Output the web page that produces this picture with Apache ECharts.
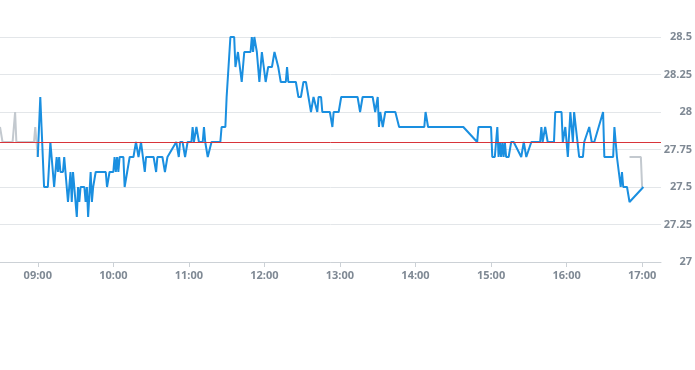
<!DOCTYPE html>
<html>
<head>
<meta charset="utf-8">
<script src="https://cdn.jsdelivr.net/npm/echarts@6/dist/echarts.min.js"></script>
<style>
  html, body { margin: 0; padding: 0; background: #fff; }
  #chart { width: 695px; height: 370px; }
</style>
</head>
<body>
<div id="chart"></div>
<script>
// Hour tick labels on the x axis
var hourTicks = ['09:00','10:00','11:00','12:00','13:00','14:00','15:00','16:00','17:00'];

// Y axis tick range
var yMin = 27, yMax = 28.5, yStep = 0.25;

// Previous close (red reference line)
var prevClose = 27.8;

// Auction / indicative price (grey)
var grayTimes  = ['08:30','08:31','08:32','08:40','08:42','08:43','08:57','08:58','09:00', null, '16:50','16:59','17:00'];
var grayPrices = [27.9, 27.9, 27.8, 27.8, 28.0, 27.8, 27.8, 27.9, 27.7, null, 27.7, 27.7, 27.5];

// Continuous trading price (blue)
var blueTimes = [
 '09:00','09:02','09:03','09:04','09:05','09:08','09:10','09:11','09:12','09:13',
 '09:15','09:16','09:17','09:18','09:20','09:21','09:22','09:23','09:24','09:26',
 '09:27','09:28','09:29','09:31','09:32','09:33','09:34','09:37','09:38','09:39',
 '09:40','09:42','09:43','09:44','09:46','09:54','09:55','09:57','10:00','10:01',
 '10:02','10:03','10:04','10:05','10:08','10:09','10:11','10:12','10:13','10:16',
 '10:18','10:19','10:20','10:22','10:23','10:25','10:26','10:32','10:34','10:35',
 '10:39','10:41','10:43','10:50','10:51','10:52','10:53','10:55','10:57','10:59',
 '11:02','11:03','11:04','11:06','11:07','11:08','11:11','11:12','11:13','11:15',
 '11:18','11:25','11:26','11:29','11:30','11:31','11:33','11:36','11:37','11:39',
 '11:40','11:42','11:44','11:49','11:50','11:51','11:52','11:54','11:56','11:58',
 '12:01','12:03','12:06','12:08','12:09','12:11','12:13','12:17','12:18','12:19',
 '12:25','12:27','12:29','12:31','12:33','12:35','12:37','12:39','12:42','12:43',
 '12:45','12:46','12:52','12:54','12:55','12:59','13:01','13:14','13:16','13:18',
 '13:26','13:28','13:30','13:31','13:32','13:34','13:36','13:44','13:47','14:07',
 '14:08','14:10','14:38','14:49','14:50','15:00','15:01','15:03','15:05','15:06',
 '15:07','15:08','15:09','15:10','15:11','15:12','15:14','15:16','15:18','15:24',
 '15:26','15:28','15:32','15:39','15:40','15:41','15:43','15:45','15:50','15:51',
 '15:56','15:57','15:59','16:01','16:03','16:04','16:05','16:06','16:07','16:10',
 '16:13','16:14','16:18','16:20','16:22','16:29','16:30','16:37','16:38','16:40',
 '16:43','16:44','16:45','16:48','16:50','17:01'
];
var bluePrices = [
 27.7, 28.1, 27.9, 27.7, 27.5, 27.5, 27.8, 27.7, 27.7, 27.5,
 27.7, 27.6, 27.7, 27.6, 27.6, 27.7, 27.7, 27.5, 27.4, 27.6,
 27.4, 27.6, 27.6, 27.3, 27.5, 27.4, 27.5, 27.5, 27.4, 27.5,
 27.3, 27.6, 27.4, 27.5, 27.6, 27.6, 27.5, 27.6, 27.6, 27.7,
 27.6, 27.7, 27.6, 27.7, 27.7, 27.5, 27.6, 27.6, 27.7, 27.7,
 27.8, 27.8, 27.7, 27.8, 27.8, 27.6, 27.7, 27.7, 27.6, 27.7,
 27.7, 27.6, 27.7, 27.8, 27.8, 27.7, 27.8, 27.8, 27.7, 27.8,
 27.8, 27.9, 27.8, 27.9, 27.9, 27.8, 27.8, 27.9, 27.8, 27.7,
 27.8, 27.8, 27.9, 27.9, 28.1, 28.1, 28.5, 28.5, 28.3, 28.4,
 28.4, 28.2, 28.4, 28.4, 28.5, 28.4, 28.5, 28.4, 28.2, 28.4,
 28.2, 28.3, 28.3, 28.4, 28.4, 28.3, 28.2, 28.2, 28.3, 28.2,
 28.2, 28.1, 28.1, 28.2, 28.2, 28.1, 28.0, 28.1, 28.0, 28.1,
 28.1, 28.0, 28.0, 27.9, 28.0, 28.0, 28.1, 28.1, 28.0, 28.1,
 28.1, 28.0, 28.1, 27.9, 28.0, 27.9, 28.0, 28.0, 27.9, 27.9,
 28.0, 27.9, 27.9, 27.8, 27.9, 27.9, 27.7, 27.7, 27.9, 27.7,
 27.8, 27.7, 27.8, 27.7, 27.8, 27.7, 27.7, 27.8, 27.8, 27.7,
 27.8, 27.7, 27.8, 27.8, 27.9, 27.8, 27.9, 27.8, 27.8, 28.0,
 28.0, 27.8, 27.9, 27.7, 28.0, 28.0, 27.8, 28.0, 28.0, 27.7,
 27.7, 27.8, 27.9, 27.8, 27.8, 28.0, 27.7, 27.7, 27.9, 27.7,
 27.5, 27.6, 27.5, 27.5, 27.4, 27.5
];

function toMin(t) {
  if (t === null) return null;
  var p = t.split(':');
  return (+p[0]) * 60 + (+p[1]);
}
function fmt(m) {
  var h = Math.floor(m / 60), mm = Math.round(m % 60);
  return (h < 10 ? '0' : '') + h + ':' + (mm < 10 ? '0' : '') + mm;
}
function pairs(ts, vs) {
  return ts.map(function (t, i) {
    return t === null ? [null, null] : [toMin(t), vs[i]];
  });
}

var tickMinutes = hourTicks.map(toMin);
var labelColor = '#7f8994';
var font = "'Open Sans', 'DejaVu Sans', sans-serif";

var chart = echarts.init(document.getElementById('chart'), null, { renderer: 'canvas' });
chart.setOption({
  animation: false,
  backgroundColor: '#ffffff',
  grid: { left: 0, right: 31, top: 37, bottom: 108 },
  xAxis: {
    type: 'value',
    min: toMin('08:30'),
    max: toMin('17:15'),
    splitLine: { show: false },
    axisLine: { show: true, lineStyle: { color: '#ccd1d6', width: 1 } },
    axisTick: { show: true, customValues: tickMinutes, length: 5, lineStyle: { color: '#ccd1d6' } },
    axisLabel: {
      customValues: tickMinutes,
      formatter: function (v) { return fmt(v); },
      color: labelColor, fontSize: 11, fontWeight: 'bold', fontFamily: font, margin: 8
    }
  },
  yAxis: {
    type: 'value',
    position: 'right',
    min: yMin, max: yMax, interval: yStep,
    axisLine: { show: false },
    axisTick: { show: false },
    splitLine: { show: true, lineStyle: { color: '#e3e6e9', width: 1 } },
    axisLabel: {
      align: 'right', margin: 31,
      color: labelColor, fontSize: 11, fontWeight: 'bold', fontFamily: font
    }
  },
  series: [
    {
      name: 'auction',
      type: 'line',
      data: pairs(grayTimes, grayPrices),
      showSymbol: false,
      connectNulls: false,
      lineStyle: { color: '#c3c9cf', width: 2 },
      itemStyle: { color: '#c3c9cf' },
      z: 2
    },
    {
      name: 'price',
      type: 'line',
      data: pairs(blueTimes, bluePrices),
      showSymbol: false,
      lineStyle: { color: '#1a8fe0', width: 2 },
      itemStyle: { color: '#1a8fe0' },
      z: 3,
      markLine: {
        silent: true,
        symbol: 'none',
        label: { show: false },
        lineStyle: { color: '#d8343a', width: 1, type: 'solid' },
        data: [{ yAxis: prevClose }]
      }
    }
  ]
});
</script>
</body>
</html>
